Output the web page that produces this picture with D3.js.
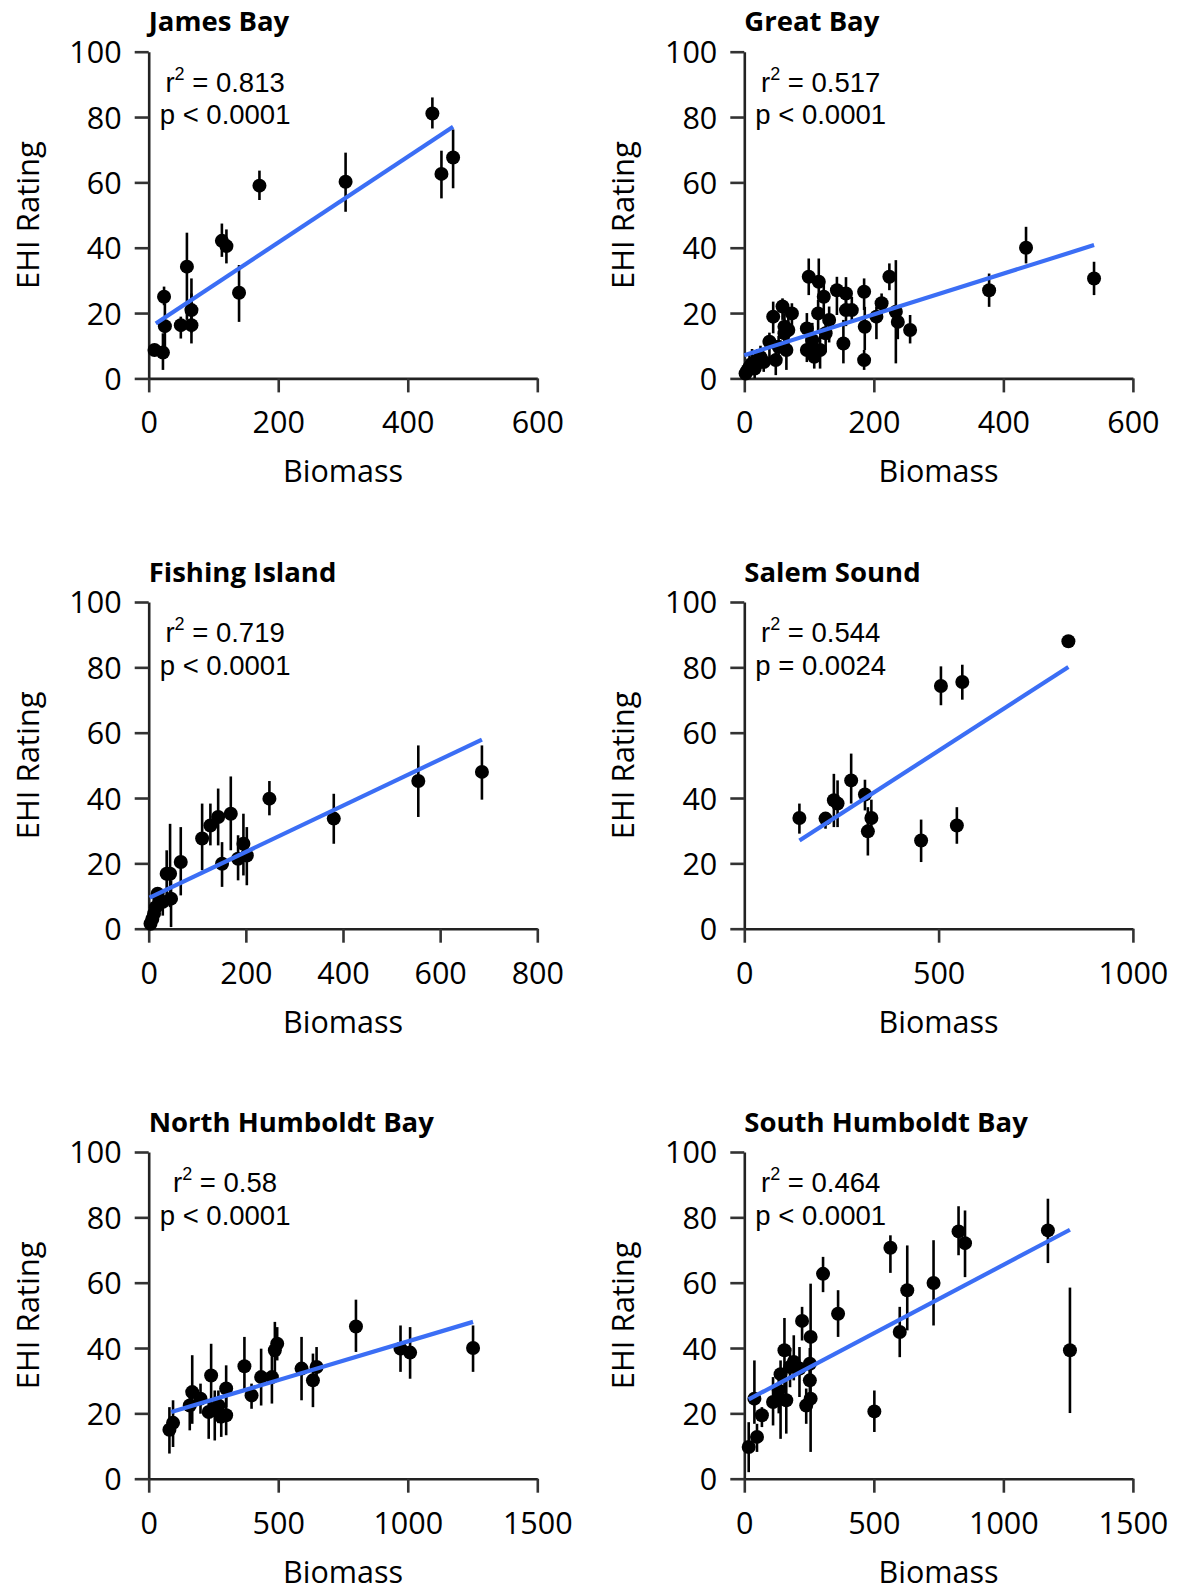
<!DOCTYPE html>
<html><head><meta charset="utf-8">
<script src="https://cdn.jsdelivr.net/npm/d3@7"></script>
<style>
html,body{margin:0;padding:0;background:#fff;}
svg{display:block;}
</style></head>
<body>
<svg id="chart" width="1177" height="1589"></svg>
<script>
// ---------- data ----------
const titles = ["James Bay","Great Bay","Fishing Island","Salem Sound","North Humboldt Bay","South Humboldt Bay"];
const xMaxes = [600,600,800,1000,1500,1500];
const xTickSteps = [200,200,200,500,500,500];
const yTicks = [0,20,40,60,80,100];
const r2Labels = ["0.813","0.517","0.719","0.544","0.58","0.464"];
const pLabels = ["p < 0.0001","p < 0.0001","p < 0.0001","p = 0.0024","p < 0.0001","p < 0.0001"];

// James Bay
const jamesX  = [9,22,23.7,25,49.6,59,66,66,113,120,139.5,171,304,438,452,470];
const jamesY  = [8.7,7.9,25,16,16.3,34.2,16.3,20.9,42.1,40.5,26.2,59,60.2,81.1,62.6,67.6];
const jamesLo = [7,2.6,22.4,9,12.2,17.9,10.7,14,37.2,35.2,17.3,54.6,51,76.5,55.1,58.2];
const jamesHi = [10,13.8,28.1,23,18.9,44.6,26,30.6,47.4,45.6,34.7,63.6,69.1,86,69.7,76.2];
const jamesFitX = [11,470];
const jamesFitY = [16.8,77];

// Great Bay
const greatX  = [2,5,8,12,16,20,25,30,38.8,44.6,48.6,53,59,62,62,65,73.5,68,96.6,99.5,96.6,105,108,114,115,117,122.7,125.6,131,143,153,157,157,166,185,186,185,204,212,224,234,237,256,378,435,540];
const greatY  = [1.5,2.5,3.5,4.5,3,5.5,6.5,5,11.2,18.9,5.6,9.7,22,15.8,13.8,8.7,19.9,14.8,15.3,31.1,8.7,11.7,6.6,19.9,29.6,8.7,25,13.8,17.9,27,10.7,26,20.9,20.9,26.5,15.8,5.6,18.9,23,31.1,20.4,17.3,14.8,27,40,30.6];
const greatLo = [0,0,1,1,0,2,3,2,6,13.8,1,5,17.9,11,9,2.6,16.3,10,11,25.5,5,7,3,14,24,3,20,8,11,19.4,4.6,22,16,17,20.9,8.7,2.6,12,19,27,4.6,12,10.7,21.9,35.2,25.5];
const greatHi = [4,6,8,9,7,9,10,8,14,23.5,11.7,13,24.5,20,18,14.8,23,19,20,36.7,12,17,10,24,36.7,13,29,19,22,31.1,17.9,31,25,25,30.6,21.9,8.7,22,26,35.2,36.2,21,19.4,32.1,46.4,35.7];
const greatFitX = [0,540];
const greatFitY = [7.1,40.8];

// Fishing Island
const fishX  = [3.7,7.4,11,14.7,18.4,22,29,37,44,46,66,110,127,143,169,151,184,195,202,248.5,381,555,686];
const fishY  = [1.5,3,4.6,6.6,10.7,8.7,8.2,16.8,16.8,9.2,20.4,27.6,31.6,34.2,35.2,19.9,21.4,26,22.4,39.8,33.7,45.2,48];
const fishLo = [0,0,1,2,8,5,4,9.7,6.6,0.5,10.2,17.9,25.5,25.5,24,12.8,14.8,16.3,13.3,34.7,26,34.2,39.5];
const fishHi = [3,6,8,10,12,12,12,24,32.1,14.8,31.1,38.3,38.3,42.9,46.6,26.5,28.6,35.2,31.1,45.2,41.3,56.1,56.1];
const fishFitX = [2,686];
const fishFitY = [9.5,57.9];

// Salem Sound
const salemX  = [141.8,209,230.5,240,275,310.5,327,318,455,506,547,561,834];
const salemY  = [33.9,33.7,39.3,38.3,45.4,41.1,33.9,29.8,27,74.3,31.6,75.5,88];
const salemLo = [29.1,30.6,31.1,31.1,38.3,36.2,29.1,22.4,20.4,68.4,26,70.1,88];
const salemHi = [38.3,35.7,47.4,45.4,53.6,45.6,39.5,37.2,33.4,80.3,37.2,80.8,88];
const salemFitX = [142,834];
const salemFitY = [27,80.1];

// North Humboldt Bay
const northX  = [80,94,158.5,168,200,231.6,241,255,269,280,299,299,369.5,397,434,475.6,487,496,590,634,648,800,972,1009,1252];
const northY  = [15,17.1,22.4,26.5,24.5,20.4,31.6,21,22.4,19,19.4,27.6,34.4,25.5,31.1,31.1,39.3,41.3,33.7,30.1,34.2,46.6,39.8,38.6,40];
const northLo = [7.7,9.7,14.8,16.8,19.9,12.2,21.9,11.7,17,12.8,13.3,21.9,27,21.4,22.4,23,31.1,36.2,24,21.9,29.1,38.8,32.7,30.6,32.7];
const northHi = [21.9,24,28.1,37.8,29.1,24,41.3,27,27,23,25,34.7,43.4,29.1,39.8,38.3,48,46.4,43.4,38.3,40.3,54.8,46.9,46.4,46.9];
const northFitX = [87,1252];
const northFitY = [20.4,48];

// South Humboldt Bay
const southX  = [17,49,39,68,111,133,140,155,162,176.5,191,213,223,239,256,253,253,256,304,362,502,564,600,629,730.5,827,852,1172,1257];
const southY  = [9.7,12.8,24.5,19.4,23.5,27,32,39.3,24,34.2,35.7,33.7,48.3,22.4,43.4,35.2,30.1,24.5,62.7,50.5,20.6,70.7,44.9,57.7,59.9,75.7,72.1,76,39.3];
const southLo = [2,8.2,16.8,15.8,16.3,20,12.2,27,13.8,28,30.1,25,42.3,16.8,34.2,30,25,8.2,57.1,43.4,14.3,63,37.2,45.4,46.9,68.4,61.7,66,20.1];
const southHi = [17.3,16.8,36.2,21.9,31.1,32,36.2,49.2,30.1,40,43.9,40.3,52.6,27.6,59.7,40,35,34.2,67.9,57.7,27,74.5,52.6,71.4,73,83.4,82.1,85.7,58.5];
const southFitX = [17,1257];
const southFitY = [24.3,76.2];

const seriesX  = [jamesX, greatX, fishX, salemX, northX, southX];
const seriesY  = [jamesY, greatY, fishY, salemY, northY, southY];
const seriesLo = [jamesLo, greatLo, fishLo, salemLo, northLo, southLo];
const seriesHi = [jamesHi, greatHi, fishHi, salemHi, northHi, southHi];
const fitXs = [jamesFitX, greatFitX, fishFitX, salemFitX, northFitX, southFitX];
const fitYs = [jamesFitY, greatFitY, fishFitY, salemFitY, northFitY, southFitY];

// ---------- layout ----------
const colLeft = [148.7, 744.3];
const rowTop = [51.7, 602, 1152];
const W = 388.6, H = 326.7;
const axisColor = "#222";
const lineBlue = "#3b6ef5";
const tickFont = "'Open Sans', sans-serif";
const annFont = "'Liberation Sans', Arial, sans-serif";

const svg = d3.select("#chart");

titles.forEach((title, i) => {
  const col = i % 2, row = Math.floor(i / 2);
  const g = svg.append("g").attr("transform", `translate(${colLeft[col]},${rowTop[row]})`);
  const x = d3.scaleLinear().domain([0, xMaxes[i]]).range([0, W]);
  const y = d3.scaleLinear().domain([0, 100]).range([H, 0]);
  const xt = d3.range(0, xMaxes[i] + 1, xTickSteps[i]);

  // axes
  const ya = g.append("g").call(d3.axisLeft(y).tickValues(yTicks).tickSize(14).tickSizeOuter(0).tickFormat(d3.format("d")));
  const xa = g.append("g").attr("transform", `translate(0,${H})`)
    .call(d3.axisBottom(x).tickValues(xt).tickSize(14).tickSizeOuter(0).tickFormat(d3.format("d")));
  [ya, xa].forEach(a => {
    a.select(".domain").attr("stroke", axisColor).attr("stroke-width", 2.6);
    a.selectAll(".tick line").attr("stroke", "#333").attr("stroke-width", 2.6);
    a.selectAll(".tick text").attr("fill", "#000").style("font-family", tickFont).style("font-size", "30.5px");
  });
  ya.selectAll(".tick text").attr("x", -27).attr("dy", "0.36em");
  xa.selectAll(".tick text").attr("y", 55).attr("dy", 0);

  // title
  g.append("text").attr("x", 0).attr("y", -20.5)
    .style("font-family", tickFont).style("font-weight", 700).style("font-size", "27.5px")
    .text(title);

  // axis titles
  g.append("text").attr("transform", `translate(-110,${H/2}) rotate(-90)`)
    .attr("text-anchor", "middle").style("font-family", tickFont).style("font-size", "31px")
    .text("EHI Rating");
  g.append("text").attr("x", W/2).attr("y", H + 104)
    .attr("text-anchor", "middle").style("font-family", tickFont).style("font-size", "30.5px")
    .text("Biomass");

  // annotations
  const pt = g.append("text").attr("x", 11).attr("y", 72.5)
    .style("font-family", annFont).style("font-size", "27.5px").text(pLabels[i]);
  const pw = pt.node().getComputedTextLength();
  const rt = g.append("text").attr("x", 11 + pw / 2).attr("y", 40).attr("text-anchor", "middle")
    .style("font-family", annFont).style("font-size", "27.5px");
  rt.append("tspan").text("r");
  rt.append("tspan").attr("dy", -12).style("font-size", "18px").text("2");
  rt.append("tspan").attr("dy", 12).text(" = " + r2Labels[i]);

  // data
  const xs = seriesX[i], ys = seriesY[i], lo = seriesLo[i], hi = seriesHi[i];
  const idx = d3.range(xs.length);
  g.append("g").selectAll("line").data(idx).join("line")
    .attr("x1", k => x(xs[k])).attr("x2", k => x(xs[k]))
    .attr("y1", k => y(lo[k])).attr("y2", k => y(hi[k]))
    .attr("stroke", "#000").attr("stroke-width", 2.6);
  g.append("g").selectAll("circle").data(idx).join("circle")
    .attr("cx", k => x(xs[k])).attr("cy", k => y(ys[k])).attr("r", 7)
    .attr("fill", "#000");

  // fit line
  const fx = fitXs[i], fy = fitYs[i];
  g.append("path")
    .attr("d", d3.line().x(k => x(fx[k])).y(k => y(fy[k]))(d3.range(fx.length)))
    .attr("stroke", lineBlue).attr("stroke-width", 4.2).attr("fill", "none");
});
</script>
</body></html>
